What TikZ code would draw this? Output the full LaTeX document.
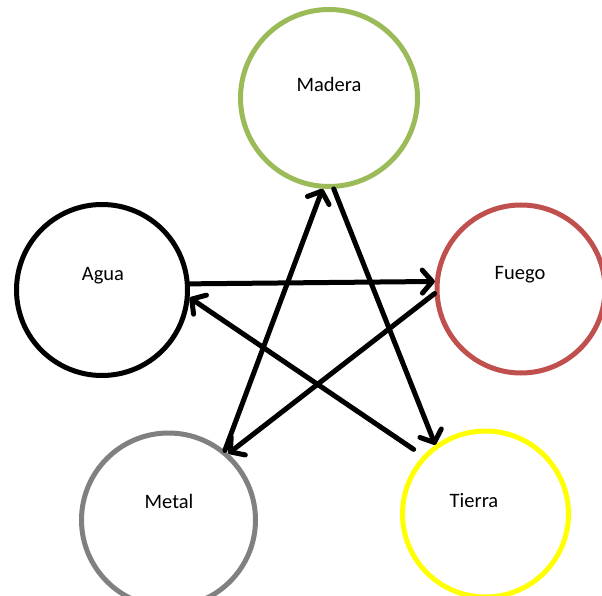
\documentclass[tikz,border=0pt]{standalone}
\usepackage{fontspec}
\setmainfont{Carlito}
\usetikzlibrary{arrows.meta,calc}
\definecolor{madera}{HTML}{9BBB59}
\definecolor{fuego}{HTML}{C0504D}
\definecolor{metal}{HTML}{808080}
\definecolor{tierra}{HTML}{FFFF00}
\begin{document}
\begin{tikzpicture}[x=1pt,y=-1pt,
  element/.style={circle,draw,line width=5pt,inner sep=0pt,fill=none},
  elabel/.style={font=\fontsize{20.5}{24}\selectfont,inner sep=0pt},
  flow/.style={line width=5pt,line cap=round,
    -{Straight Barb[length=10pt,width=23pt,line cap=round,line join=round]}}]
  \useasboundingbox (0,0) rectangle (602,596);
  % the five elements
  \node[element,draw=madera,minimum size=177pt] (madera) at (329,98) {};
  \node[element,draw=black,minimum size=171pt] (agua) at (102,290) {};
  \node[element,draw=fuego,minimum size=168pt] (fuego) at (521,289) {};
  \node[element,draw=metal,minimum size=174pt] (metal) at (168.5,520) {};
  \node[element,draw=tierra,minimum size=166pt] (tierra) at (485.5,514) {};
  % names
  \node[elabel] (tmadera) at (329,84) {Madera};
  \node[elabel] (tagua) at (103,276) {Agua};
  \node[elabel] (tfuego) at (520,275) {Fuego};
  \node[elabel] (tmetal) at (169,501) {Metal};
  \node[elabel] (ttierra) at (474,501) {Tierra};
  % cycle arrows
  \coordinate (tierraout) at ($(tierra.137)!0.04!(agua.-5)$);
  \draw[flow] (agua.4) -- (fuego.175);
  \draw[flow] (fuego.183) -- (metal.48);
  \draw[flow] (metal.51) -- (madera.266);
  \draw[flow] (madera.273) -- (tierra.126);
  \draw[flow] (tierraout) -- (agua.-5);
\end{tikzpicture}
\end{document}
